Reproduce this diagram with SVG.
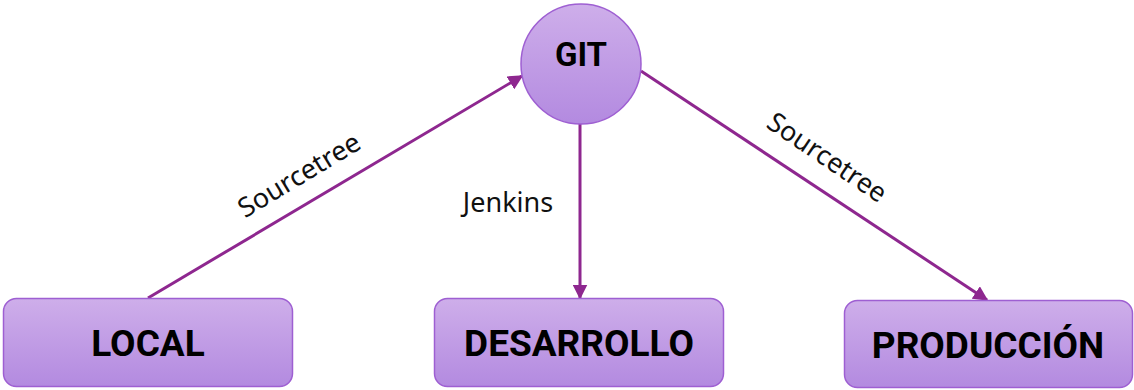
<svg xmlns="http://www.w3.org/2000/svg" width="1134" height="390" viewBox="0 0 1134 390">
<defs>
<linearGradient id="g" x1="0" y1="0" x2="0" y2="1">
<stop offset="0" stop-color="#ceaeea"/>
<stop offset="1" stop-color="#b38ae0"/>
</linearGradient>
<marker id="ah" viewBox="0 0 10 10" refX="9" refY="5" markerWidth="5" markerHeight="5" orient="auto" markerUnits="strokeWidth">
<path d="M0,0 L10,5 L0,10 z" fill="#8e278f"/>
</marker>
<style>
.node{fill:url(#g);stroke:#9e5fd2;stroke-width:1.5}
.lbl{font-family:Roboto,"Liberation Sans",sans-serif;font-weight:bold;font-size:37px;fill:#000;text-anchor:middle}
.edge{stroke:#8e278f;stroke-width:3;fill:none;marker-end:url(#ah)}
.el{font-family:"Noto Sans","Open Sans",sans-serif;font-size:27px;fill:#111;text-anchor:middle}
</style>
</defs>
<rect width="1134" height="390" fill="#fff"/>
<g id="connectors">
<line class="edge" x1="148" y1="298" x2="522" y2="76"/>
<line class="edge" x1="580" y1="124" x2="580" y2="298"/>
<line class="edge" x1="641" y1="71" x2="987" y2="300"/>
<text class="el" transform="translate(304,183) rotate(-31)">Sourcetree</text>
<text class="el" x="508" y="212">Jenkins</text>
<text class="el" transform="translate(822,165) rotate(34)">Sourcetree</text>
</g>
<g id="git">
<circle class="node" cx="581" cy="64" r="60"/>
<text class="lbl" x="581" y="66" style="font-size:33px">GIT</text>
</g>
<g id="local">
<rect class="node" x="3.5" y="298.5" width="289" height="88" rx="13"/>
<text class="lbl" x="148" y="356">LOCAL</text>
</g>
<g id="desarrollo">
<rect class="node" x="434.5" y="298.5" width="289" height="88" rx="13"/>
<text class="lbl" x="579" y="356">DESARROLLO</text>
</g>
<g id="produccion">
<rect class="node" x="844.5" y="300.5" width="288" height="87" rx="13"/>
<text class="lbl" x="988" y="358">PRODUCCIÓN</text>
</g>
</svg>
